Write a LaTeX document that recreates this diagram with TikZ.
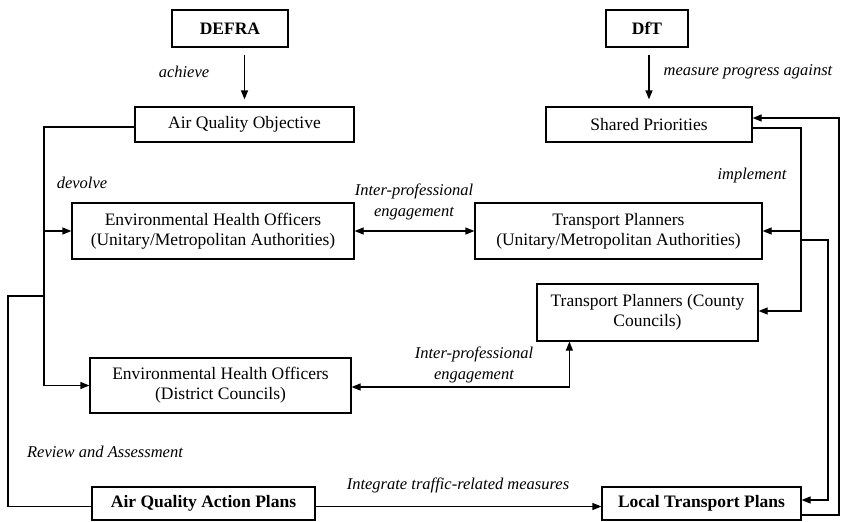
\documentclass[tikz,border=0pt]{standalone}
\usepackage{fontspec}
\setmainfont{Liberation Serif}
\usetikzlibrary{arrows.meta,calc}
\tikzset{
  box/.style={draw, line width=1.2pt, inner sep=0pt, align=center,
    font=\fontsize{17.5}{20}\selectfont},
  boldbox/.style={box, font=\fontsize{17.5}{20}\selectfont\bfseries},
  lbl/.style={font=\fontsize{16.5}{21}\selectfont\itshape, align=center, inner sep=0pt},
  link/.style={line width=1.2pt},
  arr/.style={link, -{Triangle[length=9pt,width=7pt]}},
  dblarr/.style={link, {Triangle[length=9pt,width=7pt]}-{Triangle[length=9pt,width=7pt]}},
}
\begin{document}
\begin{tikzpicture}[x=1pt,y=-1pt]
\useasboundingbox (0,0) rectangle (849,522);

% boxes
\node[boldbox, minimum width=116pt, minimum height=37pt] (defra) at (230,28.5) {DEFRA};
\node[boldbox, minimum width=82pt, minimum height=37pt] (dft) at (647,28.5) {DfT};
\node[box, minimum width=219pt, minimum height=35pt] (aqo) at (244.5,124.5) {Air Quality Objective};
\node[box, minimum width=206pt, minimum height=35pt] (sp) at (649,124.5) {Shared Priorities};
\node[box, minimum width=282pt, minimum height=56pt] (ehoum) at (213,231)
  {Environmental Health Officers\\(Unitary/Metropolitan Authorities)};
\node[box, minimum width=287pt, minimum height=56pt] (tpum) at (618.5,231)
  {Transport Planners\\(Unitary/Metropolitan Authorities)};
\node[box, minimum width=221pt, minimum height=57pt] (tpcc) at (647.5,312.5)
  {Transport Planners (County\\Councils)};
\node[box, minimum width=261pt, minimum height=55pt] (ehodc) at (220.5,385.5)
  {Environmental Health Officers\\(District Councils)};
\node[boldbox, minimum width=223pt, minimum height=33pt] (aqap) at (203.5,503.5) {Air Quality Action Plans};
\node[boldbox, minimum width=199pt, minimum height=33pt] (ltp) at (701.5,503.5) {Local Transport Plans};

% junction points
\coordinate (devA) at (44,231);
\coordinate (devB) at (44,296);
\coordinate (impA) at (801,231);
\coordinate (impB) at (801,240);
\coordinate (rev) at (8,296);

% top-down links
\draw[arr, shorten <=7pt, shorten >=7pt] (defra.south -| aqo.north) -- (aqo.north);
\draw[arr, shorten <=7pt, shorten >=7pt] (dft.south -| sp.north) -- (sp.north);
\node[lbl] at (184,72) {achieve};
\node[lbl] at (748,72) {measure progress against};

% devolve trunk
\draw[arr] ($(aqo.west)+(0,2.5)$) -| (devA) |- (ehodc.west);
\draw[arr] (devA) -- (ehoum.west);
\node[lbl] at (82,183) {devolve};

% implement trunk
\draw[arr] ($(sp.east)+(0,3.5)$) -| (impA) |- ($(tpcc.east)+(0,-1.5)$);
\draw[arr] (impA) -- (tpum.east);
\draw[arr] (impB) -| (828,240) |- ($(ltp.east)+(0,-3.5)$);
\draw[arr] ($(ltp.east)+(0,11.5)$) -| (839,118) -- ($(sp.east)+(0,-6.5)$);
\node[lbl] at (752,176) {implement};

% inter-professional engagement
\draw[dblarr] (ehoum.east) -- (tpum.west);
\node[lbl] at (414,201.5) {Inter-professional\\engagement};
\draw[dblarr] ($(ehodc.east)+(0,1.5)$) -| ($(tpcc.south west)+(33,0)$);
\node[lbl] at (474,365) {Inter-professional\\engagement};

% action plans
\draw[arr] ($(aqap.east)+(0,3)$) -- ($(ltp.west)+(0,3)$);
\node[lbl] at (458,485) {Integrate traffic-related measures};
\draw[link] ($(aqap.west)+(0,3)$) -| (rev) -- (devB);
\node[lbl] at (105,452) {Review and Assessment};
\end{tikzpicture}
\end{document}
